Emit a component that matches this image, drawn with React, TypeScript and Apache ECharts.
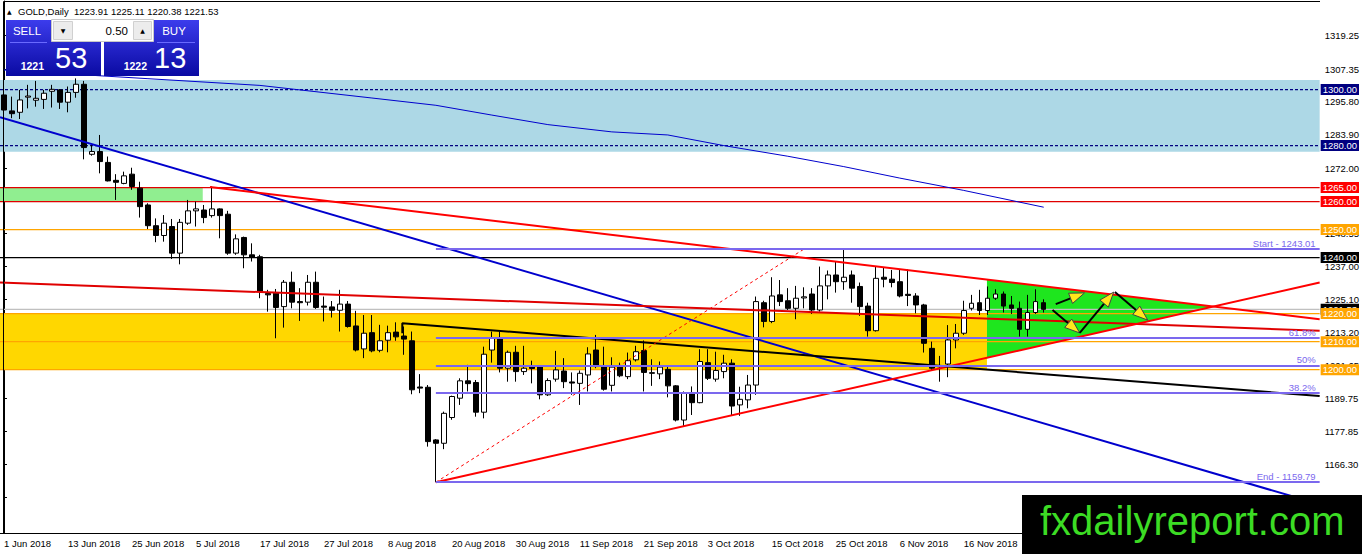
import React, { useEffect, useRef } from "react";
import * as echarts from "echarts";

const FONT = "'Liberation Sans', Arial, sans-serif";

// date labels on the time axis, one every 8 daily bars
const dateTicks = [
  "1 Jun 2018", "13 Jun 2018", "25 Jun 2018", "5 Jul 2018", "17 Jul 2018",
  "27 Jul 2018", "8 Aug 2018", "20 Aug 2018", "30 Aug 2018", "11 Sep 2018",
  "21 Sep 2018", "3 Oct 2018", "15 Oct 2018", "25 Oct 2018", "6 Nov 2018",
  "16 Nov 2018", "28 Nov 2018",
];

// price scale labels (right axis)
const priceTicks = [
  1319.25, 1307.35, 1295.8, 1283.9, 1272.0, 1260.45, 1248.55, 1237.0,
  1225.1, 1213.2, 1201.65, 1189.75, 1177.85, 1166.3, 1154.4,
];

const lastBar = [1223.91, 1225.11, 1220.38, 1221.53]; // O H L C of the last bar
const bidPrice = 1221.53;
const askPrice = 1222.13;
const lotSize = "0.50";

// daily candles, GOLD
const openPrices = [
  1298.1, 1292.4, 1291.9, 1297.3, 1296.2, 1296.5, 1299.4, 1299.9, 1295.5, 1299.0,
  1301.9, 1276.9, 1277.9, 1274.0, 1267.6, 1266.5, 1269.8, 1264.8, 1258.8, 1251.4,
  1247.9, 1251.1, 1241.6, 1252.3, 1256.7, 1257.0, 1255.0, 1257.4, 1255.5, 1241.6,
  1247.2, 1241.0, 1240.3, 1227.2, 1227.3, 1222.5, 1231.2, 1224.3, 1224.1, 1231.2,
  1222.7, 1222.4, 1221.2, 1223.4, 1215.6, 1207.4, 1213.2, 1206.9, 1210.5, 1213.4,
  1212.0, 1210.3, 1193.8, 1193.7, 1174.9, 1173.7, 1182.9, 1189.8, 1196.0, 1195.4,
  1184.8, 1207.0, 1211.2, 1200.5, 1206.2, 1199.3, 1201.1, 1201.1, 1191.0, 1196.6,
  1199.5, 1195.6, 1195.1, 1198.1, 1207.0, 1201.1, 1194.4, 1201.1, 1197.5, 1203.5,
  1206.8, 1198.9, 1198.5, 1200.1, 1194.2, 1182.0, 1191.6, 1188.2, 1202.5, 1196.6,
  1199.3, 1202.3, 1187.4, 1189.2, 1194.5, 1223.9, 1217.2, 1226.7, 1224.6, 1221.9,
  1225.6, 1227.0, 1221.3, 1229.9, 1233.8, 1231.4, 1233.8, 1229.7, 1222.7, 1213.9,
  1233.0, 1232.3, 1231.4, 1226.9, 1226.3, 1223.1, 1207.6, 1201.3, 1202.0, 1210.6,
  1213.0, 1221.9, 1223.9, 1221.1, 1225.5, 1227.0, 1223.1, 1221.9, 1214.4, 1220.4, 1223.91,
];
const closePrices = [
  1292.7, 1291.4, 1296.3, 1297.7, 1296.9, 1298.7, 1300.1, 1295.5, 1299.0, 1301.9,
  1279.3, 1277.9, 1274.3, 1267.4, 1266.9, 1269.2, 1265.4, 1258.2, 1251.4, 1247.9,
  1252.3, 1241.6, 1252.6, 1256.7, 1257.4, 1254.3, 1257.4, 1255.0, 1241.6, 1246.7,
  1241.0, 1240.2, 1227.9, 1226.7, 1222.2, 1231.2, 1224.1, 1223.9, 1231.2, 1222.2,
  1222.3, 1221.2, 1223.4, 1215.4, 1207.0, 1213.0, 1206.7, 1210.3, 1213.2, 1211.7,
  1210.9, 1192.8, 1193.4, 1174.3, 1173.7, 1184.4, 1190.4, 1196.0, 1195.0, 1184.8,
  1205.5, 1211.2, 1200.5, 1206.2, 1199.3, 1200.5, 1200.4, 1191.0, 1196.1, 1199.9,
  1195.7, 1195.2, 1198.7, 1205.6, 1201.1, 1193.0, 1200.9, 1197.8, 1203.2, 1206.4,
  1199.0, 1198.7, 1200.9, 1194.2, 1182.0, 1191.6, 1188.2, 1202.9, 1196.9, 1199.7,
  1202.3, 1187.0, 1189.4, 1194.5, 1224.3, 1217.2, 1226.3, 1224.3, 1221.9, 1225.5,
  1226.0, 1221.3, 1229.9, 1233.8, 1231.4, 1233.0, 1229.1, 1222.5, 1213.9, 1232.6,
  1232.3, 1231.1, 1226.3, 1226.5, 1223.1, 1209.4, 1200.5, 1201.0, 1210.6, 1213.0,
  1221.1, 1223.7, 1221.1, 1225.5, 1227.0, 1222.7, 1221.9, 1214.4, 1220.4, 1224.3, 1221.53,
];
const lowPrices = [
  1289.8, 1289.8, 1289.5, 1293.3, 1293.9, 1293.1, 1293.6, 1293.1, 1291.9, 1297.1,
  1275.1, 1276.4, 1270.1, 1267.2, 1260.6, 1266.2, 1264.2, 1254.3, 1250.2, 1245.5,
  1245.7, 1239.5, 1237.6, 1251.7, 1251.1, 1252.3, 1254.3, 1246.9, 1241.0, 1241.0,
  1236.2, 1238.6, 1225.5, 1220.7, 1211.2, 1215.0, 1221.9, 1217.4, 1222.9, 1221.7,
  1217.2, 1218.6, 1213.6, 1215.0, 1206.5, 1204.1, 1206.2, 1206.2, 1206.2, 1210.3,
  1205.3, 1191.2, 1191.6, 1172.5, 1159.79, 1171.6, 1182.1, 1187.4, 1192.2, 1183.2,
  1182.6, 1202.5, 1199.0, 1195.7, 1195.7, 1198.1, 1195.1, 1189.4, 1190.6, 1195.7,
  1193.4, 1191.0, 1187.4, 1192.2, 1200.5, 1192.5, 1192.2, 1197.3, 1196.6, 1202.9,
  1192.2, 1194.2, 1196.6, 1190.1, 1181.5, 1179.9, 1183.8, 1188.0, 1196.3, 1195.7,
  1196.9, 1183.8, 1183.5, 1186.2, 1191.0, 1215.1, 1216.6, 1222.7, 1221.3, 1218.0,
  1221.9, 1219.9, 1220.7, 1225.1, 1227.5, 1228.5, 1223.9, 1219.2, 1211.8, 1213.6,
  1229.4, 1229.4, 1225.8, 1222.7, 1220.1, 1206.1, 1199.9, 1195.7, 1197.3, 1207.6,
  1212.4, 1221.1, 1219.5, 1219.5, 1224.9, 1220.4, 1219.9, 1211.8, 1211.8, 1219.9, 1220.38,
];
const highPrices = [
  1298.7, 1297.5, 1299.9, 1301.7, 1303.1, 1299.9, 1301.7, 1300.2, 1301.1, 1304.0,
  1303.1, 1280.2, 1283.8, 1276.1, 1269.8, 1270.7, 1272.1, 1267.1, 1259.4, 1254.0,
  1255.2, 1253.8, 1253.8, 1260.6, 1260.0, 1258.8, 1265.4, 1257.6, 1256.7, 1248.3,
  1247.5, 1245.1, 1241.0, 1228.5, 1228.8, 1232.0, 1235.0, 1229.1, 1233.8, 1235.0,
  1226.1, 1224.5, 1228.5, 1224.5, 1221.0, 1219.5, 1219.5, 1216.0, 1215.7, 1216.9,
  1215.4, 1213.6, 1198.4, 1194.5, 1175.2, 1185.0, 1190.7, 1196.9, 1201.7, 1196.3,
  1208.2, 1213.6, 1213.6, 1206.8, 1208.5, 1208.5, 1203.2, 1201.3, 1196.9, 1206.7,
  1204.1, 1199.0, 1199.7, 1208.0, 1212.4, 1208.2, 1204.4, 1202.5, 1206.1, 1208.5,
  1210.4, 1203.7, 1202.9, 1201.1, 1194.5, 1192.2, 1194.0, 1207.3, 1207.3, 1206.4,
  1205.3, 1203.7, 1193.9, 1198.1, 1226.1, 1224.6, 1233.0, 1232.0, 1229.1, 1229.9,
  1229.4, 1229.1, 1236.8, 1235.4, 1238.6, 1243.01, 1235.4, 1231.1, 1223.9, 1236.8,
  1236.5, 1235.6, 1235.8, 1235.8, 1227.3, 1223.5, 1210.0, 1204.9, 1215.9, 1216.3,
  1224.6, 1226.7, 1228.5, 1229.7, 1228.7, 1227.9, 1226.3, 1224.3, 1226.7, 1228.7, 1225.11,
];

// moving average: [bar index, price]
const movingAverage = [
  [0, 1307.0], [18, 1303.9], [32, 1301.5], [46, 1297.0], [54, 1294.4],
  [61, 1290.9], [68, 1287.5], [76, 1284.9], [83, 1283.8], [90, 1280.0],
  [98, 1276.2], [105, 1272.5], [112, 1268.4], [120, 1264.0], [130, 1258.0],
];

// trend lines: [bar index, price]
const blueTrend = [[-0.5, 1290.15], [164.5, 1151.9]];
const redUpperTrend = [[25.75, 1265.2], [164.5, 1218.0]];
const redLongTrend = [[-0.5, 1231.1], [164.5, 1213.9]];
const redRisingTrend = [[54, 1159.79], [164.5, 1231.1]];
const blackTrend = [[49.8, 1213.0], [49.8, 1216.6], [164.5, 1190.55]];
const fibDiagonal = [[54, 1159.79], [100, 1243.01]];

// fibonacci retracement
const fibValues = [1243.01, 1211.22, 1201.4, 1191.58, 1159.79];
const fibNames = ["Start - 1243.01", "61.8%", "50%", "38.2%", "End - 1159.79"];

// zones: [x1, price1, x2, price2]
const resistanceZone = [-0.5, 1303.4, 164.5, 1277.8];
const oldSupportZone = [-0.5, 1265, 24.85, 1260];
const supportZone = [-0.5, 1220, 122.9, 1200];
const triangle = [122.9, 1232.15, 122.9, 1204.3, 151.2, 1222.5];

// projected swings: [x1, price1, x2, price2]
const projectionArrows = [
  [131.5, 1223.4, 135.1, 1227.4],
  [131.1, 1221.3, 134.5, 1213.1],
  [134.5, 1213.1, 138.75, 1227.7],
  [138.9, 1227.7, 143.0, 1217.7],
];

// horizontal levels
const dashedLevels = [1300, 1280];
const redLevels = [1265, 1260];
const orangeLevels = [1250, 1220, 1210, 1200];
const blackLevel = 1240;

const BAR_SLOTS = 165;
const X_MIN = -0.5;
const X_MAX = 164.5;
const categories = Array.from({ length: BAR_SLOTS }, (_, i) => String(i));
const candleData = openPrices.map((o, i) => [o, closePrices[i], lowPrices[i], highPrices[i]]);
const zoneColors = ["#add8e6", "#90ee90", "#ffd700"];

const tag = (bg: string) => ({
  show: true,
  position: "end",
  distance: 1,
  formatter: (p: any) => Number(p.value).toFixed(2),
  color: "#fff",
  backgroundColor: bg,
  padding: [1, 2, 0, 2],
  fontSize: 9.5,
  lineHeight: 10,
  fontFamily: FONT,
});

const trend = (data: number[][], color: string, width: number, type: any = "solid", z = 4) => ({
  type: "line",
  xAxisIndex: 1,
  yAxisIndex: 0,
  data,
  symbol: "none",
  showSymbol: false,
  lineStyle: { color, width, type },
  z,
  silent: true,
  clip: true,
});

const level = (v: number, color: string, type: any = "solid") =>
  trend([[X_MIN, v], [X_MAX, v]], color, 1.3, type, 2.5);

const panelFill = () =>
  new echarts.graphic.LinearGradient(0, 0, 0, 1, [
    { offset: 0, color: "#3c3cec" },
    { offset: 1, color: "#0a0aa2" },
  ]);

const whole = (v: number) => String(Math.floor(v));
const cents = (v: number) => v.toFixed(2).split(".")[1];

const App: React.FC = () => {
  const chartRef = useRef<HTMLDivElement>(null);

  useEffect(() => {
    if (!chartRef.current) return;
    const chart = echarts.init(chartRef.current, undefined, { renderer: "svg" });

    const clear = { color: "rgba(0,0,0,0)", width: 1, type: "solid" };

    chart.setOption({
      animation: false,
      grid: { left: 0, right: 42, top: 1, bottom: 21, containLabel: false },
      xAxis: [
        {
          type: "category",
          data: categories,
          boundaryGap: true,
          axisLine: { lineStyle: { color: "#000", width: 1 } },
          axisTick: { interval: 7, alignWithLabel: true, length: 4, lineStyle: { color: "#000" } },
          axisLabel: {
            interval: 7,
            formatter: (v: string) => dateTicks[Number(v) / 8] ?? "",
            align: "left",
            margin: 5,
            color: "#000",
            fontSize: 9.5,
            fontFamily: FONT,
          },
          splitLine: { show: false },
        },
        { type: "value", min: X_MIN, max: X_MAX, show: false },
      ],
      yAxis: {
        type: "value",
        position: "right",
        min: 1141.66,
        max: 1331.64,
        axisLine: { show: true, lineStyle: { color: "#000" } },
        axisTick: { show: true, length: 3, customValues: priceTicks, lineStyle: { color: "#000" } },
        axisLabel: {
          customValues: priceTicks,
          formatter: (v: number) => v.toFixed(2),
          margin: 5,
          color: "#000",
          fontSize: 9.5,
          fontFamily: FONT,
        },
        splitLine: { show: false },
      },
      series: [
        {
          type: "custom",
          xAxisIndex: 1,
          yAxisIndex: 0,
          z: 1,
          silent: true,
          clip: true,
          encode: { x: [0, 2], y: [1, 3] },
          data: [
            [...resistanceZone, 0],
            [...oldSupportZone, 1],
            [...supportZone, 2],
          ],
          renderItem: (_p: any, api: any) => {
            const a = api.coord([api.value(0), api.value(1)]);
            const b = api.coord([api.value(2), api.value(3)]);
            return {
              type: "rect",
              shape: {
                x: Math.min(a[0], b[0]),
                y: Math.min(a[1], b[1]),
                width: Math.abs(b[0] - a[0]),
                height: Math.abs(b[1] - a[1]),
              },
              style: { fill: zoneColors[api.value(4)] },
            };
          },
        },
        {
          type: "custom",
          xAxisIndex: 1,
          yAxisIndex: 0,
          z: 1.5,
          silent: true,
          clip: true,
          encode: { x: [0, 2, 4], y: [1, 3, 5] },
          data: [triangle],
          renderItem: (_p: any, api: any) => ({
            type: "polygon",
            shape: {
              points: [0, 2, 4].map((k) => api.coord([api.value(k), api.value(k + 1)])),
            },
            style: { fill: "#1ee61e" },
          }),
        },
        // horizontal price levels
        ...dashedLevels.map((v) => level(v, "#000080", [3, 2])),
        ...redLevels.map((v) => level(v, "#e00000")),
        level(blackLevel, "#000000"),
        level(bidPrice, "#c0c0c0"),
        ...orangeLevels.map((v) => level(v, "#ffa500")),
        {
          type: "candlestick",
          xAxisIndex: 0,
          yAxisIndex: 0,
          z: 3,
          barWidth: 5,
          data: candleData,
          itemStyle: {
            color: "#fff",
            color0: "#000",
            borderColor: "#000",
            borderColor0: "#000",
            borderWidth: 1,
          },
          // price tags on the right scale
          markLine: {
            silent: true,
            symbol: ["none", "none"],
            lineStyle: clear,
            data: [
              ...dashedLevels.map((v) => ({ yAxis: v, lineStyle: clear, label: tag("#000080") })),
              ...redLevels.map((v) => ({ yAxis: v, lineStyle: clear, label: tag("#ff0000") })),
              { yAxis: blackLevel, lineStyle: clear, label: tag("#000") },
              { yAxis: bidPrice, lineStyle: clear, label: tag("#000") },
              ...orangeLevels.map((v) => ({ yAxis: v, lineStyle: clear, label: tag("#ffa500") })),
            ],
          },
        },
        trend(movingAverage, "#0000cd", 1),
        trend(blueTrend, "#0000cd", 2),
        trend(redLongTrend, "#e00000", 2),
        trend(redUpperTrend, "#ff0000", 2),
        trend(redRisingTrend, "#ff0000", 2),
        trend(blackTrend, "#000", 2),
        {
          ...trend(fibDiagonal, "#ff0000", 1, [3, 3]),
          markLine: {
            silent: true,
            symbol: ["none", "none"],
            lineStyle: { color: "#7b68ee", width: 2, type: "solid" },
            label: {
              show: true,
              position: "insideEndTop",
              formatter: "{b}",
              color: "#7b68ee",
              fontSize: 9.5,
              fontFamily: FONT,
              distance: [4, 1],
            },
            data: fibValues.map((v, i) => [
              { name: fibNames[i], coord: [54, v] },
              { coord: [X_MAX, v] },
            ]),
          },
        },
        {
          type: "custom",
          xAxisIndex: 1,
          yAxisIndex: 0,
          z: 6,
          silent: true,
          encode: { x: [0, 2], y: [1, 3] },
          data: projectionArrows,
          renderItem: (_p: any, api: any) => {
            const a = api.coord([api.value(0), api.value(1)]);
            const b = api.coord([api.value(2), api.value(3)]);
            const dx = b[0] - a[0];
            const dy = b[1] - a[1];
            const len = Math.hypot(dx, dy) || 1;
            const ux = dx / len;
            const uy = dy / len;
            const hl = 15;
            const hw = 5.5;
            const bx = b[0] - ux * hl;
            const by = b[1] - uy * hl;
            return {
              type: "group",
              children: [
                {
                  type: "line",
                  shape: { x1: a[0], y1: a[1], x2: bx, y2: by },
                  style: { stroke: "#000", lineWidth: 2 },
                },
                {
                  type: "polygon",
                  shape: {
                    points: [
                      [b[0], b[1]],
                      [bx - uy * hw, by + ux * hw],
                      [bx + uy * hw, by - ux * hw],
                    ],
                  },
                  style: { fill: "#ffe81a", stroke: "#444", lineWidth: 1 },
                },
              ],
            };
          },
        },
      ],
      graphic: [
        // chart frame
        { type: "line", z: 50, silent: true, shape: { x1: 3.5, y1: 1.5, x2: 3.5, y2: 533 }, style: { stroke: "#000", lineWidth: 1 } },
        { type: "line", z: 50, silent: true, shape: { x1: 3.5, y1: 1.5, x2: 1320, y2: 1.5 }, style: { stroke: "#000", lineWidth: 1 } },
        // header
        { type: "text", z: 100, x: 7, y: 11.5, style: { text: "▲", fontSize: 6, fontFamily: "'DejaVu Sans'", fill: "#000", verticalAlign: "middle" } },
        {
          type: "text", z: 100, x: 18, y: 11.5,
          style: { text: `GOLD,Daily  ${lastBar.map((v) => v.toFixed(2)).join(" ")}`, fontSize: 9.5, fontFamily: FONT, fill: "#000", verticalAlign: "middle" },
        },
        // one click trading panel
        { type: "rect", z: 100, shape: { x: 6, y: 20, width: 95, height: 56 }, style: { fill: panelFill() } },
        { type: "rect", z: 100, shape: { x: 104, y: 20, width: 95, height: 56 }, style: { fill: panelFill() } },
        { type: "line", z: 101, shape: { x1: 10, y1: 42.5, x2: 47, y2: 42.5 }, style: { stroke: "#6a6aff", lineWidth: 1 } },
        { type: "line", z: 101, shape: { x1: 157, y1: 42.5, x2: 195, y2: 42.5 }, style: { stroke: "#6a6aff", lineWidth: 1 } },
        { type: "rect", z: 101, shape: { x: 51.5, y: 19.5, width: 102, height: 22 }, style: { fill: "#fff", stroke: "#c8c8c8", lineWidth: 1 } },
        { type: "rect", z: 102, shape: { x: 53.5, y: 21.5, width: 19, height: 18 }, style: { fill: "#ececec", stroke: "#d0d0d0", lineWidth: 1 } },
        { type: "rect", z: 102, shape: { x: 133.5, y: 21.5, width: 18, height: 18 }, style: { fill: "#ececec", stroke: "#d0d0d0", lineWidth: 1 } },
        { type: "text", z: 103, x: 63, y: 30.5, style: { text: "▼", fontSize: 6, fontFamily: "'DejaVu Sans'", fill: "#000", align: "center", verticalAlign: "middle" } },
        { type: "text", z: 103, x: 142.5, y: 30.5, style: { text: "▲", fontSize: 6, fontFamily: "'DejaVu Sans'", fill: "#000", align: "center", verticalAlign: "middle" } },
        { type: "text", z: 103, x: 128, y: 30.5, style: { text: lotSize, fontSize: 11.5, fontFamily: FONT, fill: "#000", align: "right", verticalAlign: "middle" } },
        { type: "text", z: 103, x: 27, y: 31, style: { text: "SELL", fontSize: 11.5, fontFamily: FONT, fill: "#fff", align: "center", verticalAlign: "middle" } },
        { type: "text", z: 103, x: 174, y: 31, style: { text: "BUY", fontSize: 11.5, fontFamily: FONT, fill: "#fff", align: "center", verticalAlign: "middle" } },
        { type: "text", z: 103, x: 44, y: 65.5, style: { text: whole(bidPrice), fontSize: 10.5, fontWeight: "bold", fontFamily: FONT, fill: "#fff", align: "right", verticalAlign: "middle" } },
        { type: "text", z: 103, x: 55, y: 58, style: { text: cents(bidPrice), fontSize: 29, fontFamily: FONT, fill: "#fff", verticalAlign: "middle" } },
        { type: "text", z: 103, x: 147, y: 65.5, style: { text: whole(askPrice), fontSize: 10.5, fontWeight: "bold", fontFamily: FONT, fill: "#fff", align: "right", verticalAlign: "middle" } },
        { type: "text", z: 103, x: 154, y: 58, style: { text: cents(askPrice), fontSize: 29, fontFamily: FONT, fill: "#fff", verticalAlign: "middle" } },
        // watermark
        { type: "rect", z: 200, shape: { x: 1022, y: 495, width: 340, height: 59 }, style: { fill: "#000" } },
        { type: "text", z: 201, x: 1040, y: 521, style: { text: "fxdailyreport.com", fontSize: 40, fontFamily: FONT, fill: "#3cdc24", verticalAlign: "middle" } },
      ],
    });

    return () => {
      chart.dispose();
    };
  }, []);

  return (
    <div
      ref={chartRef}
      style={{ position: "fixed", left: 0, top: 0, width: 1362, height: 554, background: "#fff" }}
    />
  );
};

export default App;
